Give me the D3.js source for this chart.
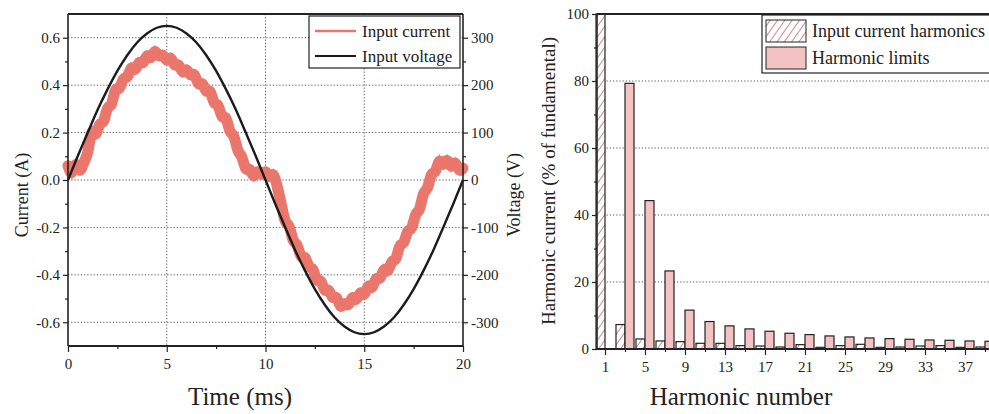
<!DOCTYPE html>
<html>
<head>
<meta charset="utf-8">
<script src="https://cdn.jsdelivr.net/npm/d3@7"></script>
<style>
  body { margin: 0; background: #fff; }
  svg { display: block; }
  text { font-family: "Liberation Serif", "Times New Roman", serif; fill: #222; }
</style>
</head>
<body>
<svg id="chart" width="989" height="414"></svg>
<script>
// ---- Waveforms (one mains cycle) ----
const timeTicks = [0, 5, 10, 15, 20];
const timeMinorTicks = [2.5, 7.5, 12.5, 17.5];
const currentTicks = [-0.6, -0.4, -0.2, 0, 0.2, 0.4, 0.6];
const currentMinorTicks = [-0.5, -0.3, -0.1, 0.1, 0.3, 0.5];
const voltageTicks = [-300, -200, -100, 0, 100, 200, 300];
const voltageMinorTicks = [-250, -150, -50, 50, 150, 250];

// input voltage (V), sampled every 0.5 ms
const voltageStepMs = 0.5;
const inputVoltage = [
  0, 51, 100, 148, 191, 230, 263, 290, 309, 321,
  325, 321, 309, 290, 263, 230, 191, 148, 100, 51,
  0, -51, -100, -148, -191, -230, -263, -290, -309, -321,
  -325, -321, -309, -290, -263, -230, -191, -148, -100, -51,
  0
];

// input current (A), sampled every 0.2 ms (switching ripple included)
const currentStepMs = 0.2;
const inputCurrent = [
  0.06, 0.01, 0.09, 0.02, 0.08, 0.10, 0.23, 0.17, 0.25, 0.23,
  0.32, 0.30, 0.40, 0.37, 0.44, 0.42, 0.49, 0.45, 0.51, 0.48,
  0.54, 0.50, 0.56, 0.51, 0.54, 0.49, 0.53, 0.47, 0.50, 0.44,
  0.48, 0.43, 0.46, 0.39, 0.42, 0.36, 0.39, 0.31, 0.33, 0.25,
  0.28, 0.19, 0.20, 0.11, 0.11, 0.03, 0.06, 0.00, 0.05, 0.01,
  0.05, 0.00, 0.04, -0.03, -0.10, -0.19, -0.18, -0.27, -0.26, -0.34,
  -0.31, -0.38, -0.36, -0.44, -0.41, -0.48, -0.45, -0.51, -0.48, -0.55,
  -0.51, -0.54, -0.48, -0.52, -0.46, -0.50, -0.43, -0.47, -0.40, -0.43,
  -0.36, -0.40, -0.33, -0.35, -0.26, -0.28, -0.20, -0.22, -0.13, -0.14,
  -0.04, -0.05, 0.04, 0.02, 0.10, 0.05, 0.10, 0.04, 0.09, 0.03,
  0.05
];

// ---- Harmonic spectrum ----
const harmonicOrders = [1, 3, 5, 7, 9, 11, 13, 15, 17, 19, 21, 23, 25, 27, 29, 31, 33, 35, 37, 39];
const currentHarmonics = [100, 7.3, 3.0, 2.4, 2.2, 1.7, 1.7, 1.0, 0.9, 0.6, 1.3, 0.5, 1.0, 1.4, 0.5, 0.6, 0.9, 1.0, 0.5, 0.6];
const harmonicLimits = [null, 79.3, 44.3, 23.3, 11.6, 8.2, 6.9, 6.0, 5.3, 4.7, 4.3, 3.9, 3.6, 3.3, 3.1, 2.9, 2.7, 2.6, 2.4, 2.3];
const harmonicTicks = [1, 5, 9, 13, 17, 21, 25, 29, 33, 37];
const harmonicMinorTicks = [3, 7, 11, 15, 19, 23, 27, 31, 35, 39];
const percentTicks = [0, 20, 40, 60, 80, 100];
const percentMinorTicks = [10, 30, 50, 70, 90];

const svg = d3.select("#chart");
const ink = "#222";
const serif = '"Liberation Serif", "Times New Roman", serif';
const currentColor = "#ea766c";

function styleAxis(g) {
  g.attr("font-family", serif).attr("font-size", 15);
  g.selectAll(".domain").remove();
  g.selectAll(".tick line").attr("stroke", ink).attr("stroke-width", 1.2);
  g.selectAll(".tick text").attr("fill", ink);
}

// ================= Left panel: waveforms =================
const L = { left: 68, right: 463, top: 14, bottom: 346 };
const xT = d3.scaleLinear().domain([0, 20]).range([L.left, L.right]);
const yI = d3.scaleLinear().domain([-0.7, 0.7]).range([L.bottom, L.top]);
const yV = d3.scaleLinear().domain([-350, 350]).range([L.bottom, L.top]);

const left = svg.append("g");

// dotted grid
left.append("g").selectAll("line").data(currentTicks).join("line")
  .attr("x1", L.left).attr("x2", L.right)
  .attr("y1", d => yI(d)).attr("y2", d => yI(d))
  .attr("stroke", "#555").attr("stroke-width", 1).attr("stroke-dasharray", "1.2,2");
left.append("g").selectAll("line").data(timeTicks.slice(1, -1)).join("line")
  .attr("x1", d => xT(d)).attr("x2", d => xT(d))
  .attr("y1", L.top).attr("y2", L.bottom)
  .attr("stroke", "#555").attr("stroke-width", 1).attr("stroke-dasharray", "1.2,2");

// current trace: smoothed body of the ripple band, then the raw spikes on top
const currentBody = d3.line()
  .x((d, i) => xT(i * currentStepMs))
  .y(d => yI(d))
  .curve(d3.curveBasis);
const currentRaw = d3.line()
  .x((d, i) => xT(i * currentStepMs))
  .y(d => yI(d));
left.append("path").datum(inputCurrent)
  .attr("d", currentBody)
  .attr("fill", "none").attr("stroke", currentColor)
  .attr("stroke-width", 11).attr("stroke-linejoin", "round").attr("stroke-linecap", "round");
left.append("path").datum(inputCurrent)
  .attr("d", currentRaw)
  .attr("fill", "none").attr("stroke", currentColor)
  .attr("stroke-width", 1.6).attr("stroke-linejoin", "miter");

// voltage trace
const voltageLine = d3.line()
  .x((d, i) => xT(i * voltageStepMs))
  .y(d => yV(d))
  .curve(d3.curveNatural);
left.append("path").datum(inputVoltage)
  .attr("d", voltageLine)
  .attr("fill", "none").attr("stroke", "#1c1c1c").attr("stroke-width", 2.4);

// axes
left.append("g").attr("transform", `translate(${L.left},0)`)
  .call(d3.axisLeft(yI).tickValues(currentTicks).tickSize(5).tickPadding(3).tickFormat(d => d.toFixed(1)))
  .call(styleAxis);
left.append("g").attr("transform", `translate(${L.left},0)`)
  .call(d3.axisLeft(yI).tickValues(currentMinorTicks).tickSize(3).tickFormat(""))
  .call(styleAxis);
left.append("g").attr("transform", `translate(${L.right},0)`)
  .call(d3.axisRight(yV).tickValues(voltageTicks).tickSize(5).tickPadding(3).tickFormat(d => String(d)))
  .call(styleAxis);
left.append("g").attr("transform", `translate(${L.right},0)`)
  .call(d3.axisRight(yV).tickValues(voltageMinorTicks).tickSize(3).tickFormat(""))
  .call(styleAxis);
left.append("g").attr("transform", `translate(0,${L.bottom})`)
  .call(d3.axisBottom(xT).tickValues(timeTicks).tickSize(6).tickPadding(6).tickFormat(d => String(d)))
  .call(styleAxis);
left.append("g").attr("transform", `translate(0,${L.bottom})`)
  .call(d3.axisBottom(xT).tickValues(timeMinorTicks).tickSize(3).tickFormat(""))
  .call(styleAxis);

// frame
left.append("line").attr("x1", L.left).attr("x2", L.right).attr("y1", L.top).attr("y2", L.top)
  .attr("stroke", ink).attr("stroke-width", 2);
left.append("line").attr("x1", L.left).attr("x2", L.right).attr("y1", L.bottom).attr("y2", L.bottom)
  .attr("stroke", ink).attr("stroke-width", 2);
left.append("line").attr("x1", L.left).attr("x2", L.left).attr("y1", L.top).attr("y2", L.bottom)
  .attr("stroke", ink).attr("stroke-width", 1.6);
left.append("line").attr("x1", L.right).attr("x2", L.right).attr("y1", L.top).attr("y2", L.bottom)
  .attr("stroke", ink).attr("stroke-width", 1.6);

// legend
const lg = left.append("g");
lg.append("rect").attr("x", 309).attr("y", 16).attr("width", 151).attr("height", 52)
  .attr("fill", "#fff").attr("stroke", ink).attr("stroke-width", 1.2);
const leftLegend = [
  { label: "Input current", color: currentColor, width: 2.5 },
  { label: "Input voltage", color: "#1c1c1c", width: 1.8 }
];
leftLegend.forEach((d, i) => {
  const cy = 31 + i * 25;
  lg.append("line").attr("x1", 315).attr("x2", 356).attr("y1", cy).attr("y2", cy)
    .attr("stroke", d.color).attr("stroke-width", d.width);
  lg.append("text").attr("x", 362).attr("y", cy).attr("dy", "0.35em")
    .attr("font-size", 17).text(d.label);
});

// titles
svg.append("text").attr("transform", "translate(28,195) rotate(-90)")
  .attr("text-anchor", "middle").attr("font-size", 18).text("Current (A)");
svg.append("text").attr("transform", "translate(520,195) rotate(-90)")
  .attr("text-anchor", "middle").attr("font-size", 18).text("Voltage (V)");
svg.append("text").attr("x", 240).attr("y", 405)
  .attr("text-anchor", "middle").attr("font-size", 25).text("Time (ms)");

// ================= Right panel: harmonic spectrum =================
const R = { left: 597, right: 1013, top: 14, bottom: 349 };
const xH = d3.scaleLinear().domain([0.2, 41.8]).range([R.left, R.right]);
const yP = d3.scaleLinear().domain([0, 100]).range([R.bottom, R.top]);
const barUnits = 0.9;

const defs = svg.append("defs");
const hatch = defs.append("pattern").attr("id", "hatch")
  .attr("patternUnits", "userSpaceOnUse").attr("width", 6).attr("height", 6)
  .attr("patternTransform", "rotate(35)");
hatch.append("rect").attr("width", 6).attr("height", 6).attr("fill", "#fff");
hatch.append("line").attr("x1", 0).attr("x2", 0).attr("y1", 0).attr("y2", 6)
  .attr("stroke", "#c0687a").attr("stroke-width", 1.6);

const right = svg.append("g");

right.append("g").selectAll("line").data(percentTicks.slice(1, -1)).join("line")
  .attr("x1", R.left).attr("x2", R.right)
  .attr("y1", d => yP(d)).attr("y2", d => yP(d))
  .attr("stroke", "#555").attr("stroke-width", 1).attr("stroke-dasharray", "1.2,2");

const spectrum = harmonicOrders.map((n, i) => ({ n, meas: currentHarmonics[i], limit: harmonicLimits[i] }));

right.append("g").selectAll("rect").data(spectrum).join("rect")
  .attr("x", d => xH(d.n - barUnits))
  .attr("width", d => xH(d.n) - xH(d.n - barUnits))
  .attr("y", d => yP(d.meas))
  .attr("height", d => yP(0) - yP(d.meas))
  .attr("fill", "url(#hatch)").attr("stroke", ink).attr("stroke-width", 1.2);

right.append("g").selectAll("rect").data(spectrum.filter(d => d.limit != null)).join("rect")
  .attr("x", d => xH(d.n))
  .attr("width", d => xH(d.n + barUnits) - xH(d.n))
  .attr("y", d => yP(d.limit))
  .attr("height", d => yP(0) - yP(d.limit))
  .attr("fill", "#f3c3c4").attr("stroke", ink).attr("stroke-width", 1.2);

right.append("g").attr("transform", `translate(${R.left},0)`)
  .call(d3.axisLeft(yP).tickValues(percentTicks).tickSize(5).tickPadding(3).tickFormat(d => String(d)))
  .call(styleAxis);
right.append("g").attr("transform", `translate(${R.left},0)`)
  .call(d3.axisLeft(yP).tickValues(percentMinorTicks).tickSize(3).tickFormat(""))
  .call(styleAxis);
right.append("g").attr("transform", `translate(0,${R.bottom})`)
  .call(d3.axisBottom(xH).tickValues(harmonicTicks).tickSize(6).tickPadding(6).tickFormat(d => String(d)))
  .call(styleAxis);
right.append("g").attr("transform", `translate(0,${R.bottom})`)
  .call(d3.axisBottom(xH).tickValues(harmonicMinorTicks).tickSize(3).tickFormat(""))
  .call(styleAxis);

right.append("line").attr("x1", R.left).attr("x2", R.right).attr("y1", R.top).attr("y2", R.top)
  .attr("stroke", ink).attr("stroke-width", 2);
right.append("line").attr("x1", R.left).attr("x2", R.right).attr("y1", R.bottom).attr("y2", R.bottom)
  .attr("stroke", ink).attr("stroke-width", 2);
right.append("line").attr("x1", R.left).attr("x2", R.left).attr("y1", R.top).attr("y2", R.bottom)
  .attr("stroke", ink).attr("stroke-width", 1.6);

// legend
const rg = right.append("g");
rg.append("rect").attr("x", 762).attr("y", 15).attr("width", 240).attr("height", 58)
  .attr("fill", "#fff").attr("stroke", ink).attr("stroke-width", 1.2);
const rightLegend = [
  { label: "Input current harmonics", fill: "url(#hatch)" },
  { label: "Harmonic limits", fill: "#f3c3c4" }
];
rightLegend.forEach((d, i) => {
  const y0 = 20 + i * 27;
  rg.append("rect").attr("x", 766).attr("y", y0).attr("width", 40).attr("height", 22)
    .attr("fill", d.fill).attr("stroke", ink).attr("stroke-width", 1);
  rg.append("text").attr("x", 812).attr("y", y0 + 11).attr("dy", "0.35em")
    .attr("font-size", 18).text(d.label);
});

svg.append("text").attr("transform", "translate(555,181) rotate(-90)")
  .attr("text-anchor", "middle").attr("font-size", 19).text("Harmonic current (% of fundamental)");
svg.append("text").attr("x", 741).attr("y", 405)
  .attr("text-anchor", "middle").attr("font-size", 25).text("Harmonic number");
</script>
</body>
</html>
